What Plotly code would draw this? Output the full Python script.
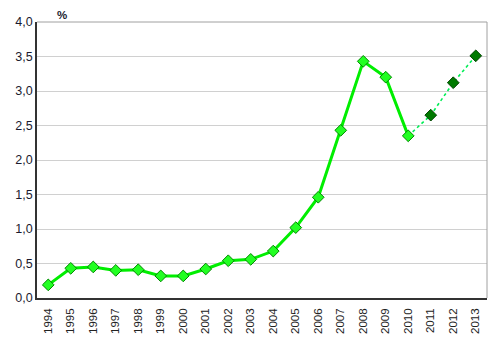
import plotly.graph_objects as go

years = [str(y) for y in range(1994, 2014)]
values = [0.19, 0.43, 0.45, 0.40, 0.41, 0.32, 0.32, 0.42, 0.54, 0.56,
          0.68, 1.02, 1.46, 2.43, 3.43, 3.20, 2.35, 2.65, 3.12, 3.51]
solid_years = years[:17]
solid_values = values[:17]
dash_years = years[16:]
dash_values = values[16:]
y_ticks = [0, 0.5, 1.0, 1.5, 2.0, 2.5, 3.0, 3.5, 4.0]
y_tick_labels = ["0,0", "0,5", "1,0", "1,5", "2,0", "2,5", "3,0", "3,5", "4,0"]

fig = go.Figure()
fig.add_trace(go.Scatter(
    x=dash_years, y=dash_values, mode="lines",
    line=dict(color="#00ee55", width=1.6, dash="dot"),
    hoverinfo="skip", showlegend=False))
fig.add_trace(go.Scatter(
    x=dash_years[1:], y=dash_values[1:], mode="markers",
    marker=dict(symbol="diamond", size=9, color="#007a00",
                line=dict(color="#004400", width=1)),
    showlegend=False))
fig.add_trace(go.Scatter(
    x=solid_years, y=solid_values, mode="lines+markers",
    line=dict(color="#00ee00", width=3),
    marker=dict(symbol="diamond", size=9, color="#22ff22",
                line=dict(color="#008800", width=1)),
    showlegend=False))

# page body has an 8px default margin, so the figure is offset by 8px
fig.update_layout(
    width=492, height=339,
    margin=dict(l=29, r=13, t=14, b=49),
    paper_bgcolor="white", plot_bgcolor="white",
    font=dict(family="Liberation Sans, Arial, sans-serif", color="#1a1a2e"),
    xaxis=dict(type="category", categoryorder="array", categoryarray=years,
               range=[-0.5, 19.5], tickangle=-90, automargin=False,
               tickfont=dict(size=11.5, color="#222222"),
               showgrid=False, showline=True, linecolor="#333333", linewidth=1.5,
               mirror=False, ticks="outside", ticklen=4, tickcolor="rgba(0,0,0,0)",
               zeroline=False),
    yaxis=dict(range=[0, 4], tickvals=y_ticks, ticktext=y_tick_labels,
               automargin=False,
               tickfont=dict(size=12.5, color="#1a1a2e"),
               showgrid=True, gridcolor="#d0d0d0", gridwidth=1,
               showline=True, linecolor="#333333", linewidth=1.5,
               ticks="", zeroline=False),
    shapes=[
        dict(type="line", xref="paper", yref="paper", x0=0, x1=1, y0=1, y1=1,
             line=dict(color="#a0a0a0", width=1)),
        dict(type="line", xref="paper", yref="paper", x0=1, x1=1, y0=0, y1=1,
             line=dict(color="#a0a0a0", width=1)),
    ],
    annotations=[dict(text="<b>%</b>", xref="paper", yref="paper",
                      x=0.055, y=1.0, xanchor="center", yanchor="middle",
                      yshift=7, showarrow=False,
                      font=dict(size=11.5, color="#1a1a2e"))],
)

fig.write_html("out.html")
